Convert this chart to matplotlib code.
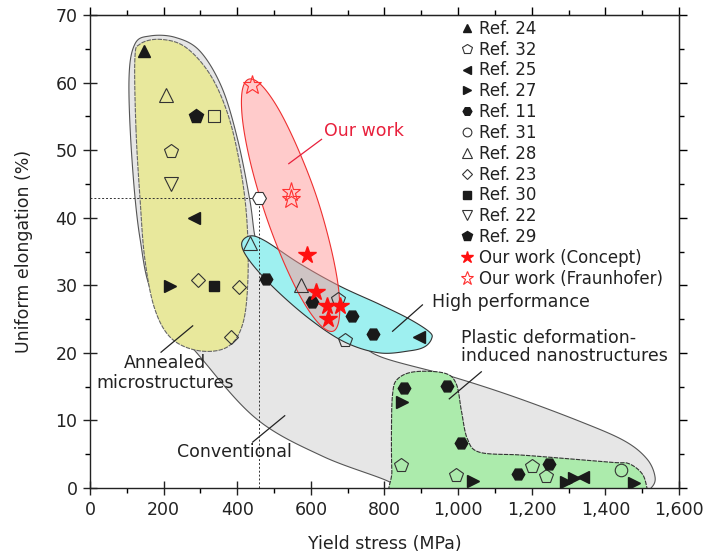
import numpy as np
import matplotlib
matplotlib.use("Agg")
import matplotlib.pyplot as plt
from matplotlib.ticker import MultipleLocator, FuncFormatter
from matplotlib.patches import Polygon

# ---- data (yield stress MPa, uniform elongation %) ----
ref24_x, ref24_y = [147], [64.7]
ref32_x = [221, 694, 675, 845, 994, 1200, 1238]
ref32_y = [49.9, 21.9, 28.0, 3.4, 1.9, 3.3, 1.8]
ref25_x, ref25_y = [283, 893, 1340], [40.0, 22.4, 1.6]
ref27_x = [217, 848, 1040, 1294, 1315, 1478]
ref27_y = [29.9, 12.8, 1.1, 0.9, 1.5, 0.8]
ref11_x = [479, 604, 711, 768, 852, 969, 1008, 1164, 1246]
ref11_y = [30.9, 27.6, 25.4, 22.8, 14.8, 15.1, 6.6, 2.1, 3.6]
ref31_x, ref31_y = [1442], [2.7]
ref28_x, ref28_y = [206, 435, 572], [58.1, 36.3, 30.1]
ref23_x, ref23_y = [294, 404, 384], [30.8, 29.8, 22.4]
ref30_x, ref30_y = [337], [29.9]
ref22_x, ref22_y = [221], [45.0]
ref29_x, ref29_y = [287], [55.0]
concept_x = [590, 615, 645, 678, 647]
concept_y = [34.5, 29.0, 26.9, 27.0, 25.0]
fraun_x, fraun_y = [440, 545, 545], [59.6, 43.8, 42.8]
open_sq_x, open_sq_y = [336], [55.0]
open_hex_x, open_hex_y = [459], [42.9]

# region outlines (data units)
conv_x = [114, 106, 122, 163, 231, 298, 358, 401, 434, 450, 475, 624, 732, 786, 976,
          1147, 1329, 1451, 1513, 1535, 1524, 1490, 1300, 1000, 845, 814, 632, 453, 298, 176, 136]
conv_y = [48.7, 60.5, 65.7, 66.9, 66.7, 64.7, 59.3, 51.6, 42.7, 36.8, 34.6, 28.0, 22.1,
          19.5, 16.6, 13.6, 9.9, 7.0, 4.3, 1.6, 0.0, -1.0, -1.5, -1.5, -1.0, 0.9, 4.7, 10.2,
          19.5, 28.0, 36.9]
ann_x = [125, 122, 136, 190, 258, 325, 374, 407, 426, 429, 415, 374, 298, 222, 176, 149, 136]
ann_y = [53.1, 63.5, 65.7, 66.4, 65.3, 61.3, 55.4, 47.9, 39.8, 30.9, 24.3, 20.9, 20.3,
         22.1, 26.5, 33.9, 42.8]
high_x = [412, 434, 475, 570, 678, 786, 868, 922, 928, 909, 868, 786, 692, 597, 502, 434]
high_y = [36.1, 37.3, 36.6, 33.2, 29.9, 27.2, 25.0, 23.1, 22.1, 20.9, 20.3, 20.0, 21.6,
          25.0, 29.5, 33.6]
plast_x = [819, 822, 835, 881, 963, 995, 1009, 1025, 1058, 1166, 1239, 1418, 1464, 1500,
           1513, 1516, 1300, 1000, 826, 820]
plast_y = [8.7, 13.9, 16.1, 17.2, 17.0, 15.4, 11.4, 7.3, 5.3, 4.9, 4.6, 3.8, 3.6, 2.1,
           0.0, -1.5, -1.5, -1.5, -1.5, 2.5]
ours_x = [660, 677, 675, 653, 615, 565, 513, 466, 431, 413, 415, 437, 476, 525, 577, 624]
ours_y = [23.2, 25.1, 29.6, 35.9, 43.2, 50.2, 56.0, 59.6, 60.5, 58.6, 54.2, 47.9, 40.6,
          33.6, 27.8, 24.2]


def smooth(xs, ys, n=24):
    p = np.column_stack([xs, ys]).astype(float)
    k = len(p)
    t = np.linspace(0, 1, n, endpoint=False)[:, None]
    out = []
    for i in range(k):
        p0, p1, p2, p3 = p[i - 1], p[i], p[(i + 1) % k], p[(i + 2) % k]
        out.append(0.5 * (2 * p1 + (-p0 + p2) * t + (2 * p0 - 5 * p1 + 4 * p2 - p3) * t ** 2
                          + (-p0 + 3 * p1 - 3 * p2 + p3) * t ** 3))
    return np.vstack(out)


plt.rcParams['font.family'] = ['DejaVu Sans']
fig = plt.figure(figsize=(7.04, 5.58), dpi=100)
ax = fig.add_axes([0.1278, 0.1254, 0.8367, 0.8477])

ax.add_patch(Polygon(smooth(conv_x, conv_y), closed=True, fc='#e6e6e6', ec='#555555', lw=0.8, zorder=1))
ax.add_patch(Polygon(smooth(ann_x, ann_y), closed=True, fc='#e8e89c', ec='#666666', lw=0.8, ls=(0, (4, 1)), zorder=2))
ax.add_patch(Polygon(smooth(high_x, high_y), closed=True, fc='#9ef0f0', ec='#333333', lw=0.8, zorder=2))
ax.add_patch(Polygon(smooth(plast_x, plast_y), closed=True, fc='#acebac', ec='#333333', lw=0.8, ls=(0, (4, 1)), zorder=2))
ax.add_patch(Polygon(smooth(ours_x, ours_y), closed=True, fc=(1.0, 0.6, 0.6, 0.5), ec='#ee3030', lw=0.8, zorder=3))

# guide lines to the open hexagon
ax.plot([0, open_hex_x[0]], [open_hex_y[0], open_hex_y[0]], ls=(0, (2, 2)), color='#333333', lw=0.7, zorder=4)
ax.plot([open_hex_x[0], open_hex_x[0]], [open_hex_y[0], 0], ls=(0, (2, 2)), color='#333333', lw=0.7, zorder=4)

k = '#1a1a1a'
mk = dict(ls='none', zorder=6)
ax.plot(ref24_x, ref24_y, '^', color=k, ms=9, label='Ref. 24', **mk)
ax.plot(ref32_x, ref32_y, 'p', mfc='none', mec='#333333', mew=0.8, ms=10, label='Ref. 32', **mk)
ax.plot(ref25_x, ref25_y, '<', color=k, ms=9, label='Ref. 25', **mk)
ax.plot(ref27_x, ref27_y, '>', color=k, ms=9, label='Ref. 27', **mk)
ax.plot(ref11_x, ref11_y, 'H', color=k, ms=9, label='Ref. 11', **mk)
ax.plot(ref31_x, ref31_y, 'o', mfc='none', mec='#333333', mew=0.8, ms=9, label='Ref. 31', **mk)
ax.plot(ref28_x, ref28_y, '^', mfc='none', mec='#333333', mew=0.8, ms=10, label='Ref. 28', **mk)
ax.plot(ref23_x, ref23_y, 'D', mfc='none', mec='#333333', mew=0.8, ms=7, label='Ref. 23', **mk)
ax.plot(ref30_x, ref30_y, 's', color=k, ms=7.5, label='Ref. 30', **mk)
ax.plot(ref22_x, ref22_y, 'v', mfc='none', mec='#333333', mew=0.8, ms=10, label='Ref. 22', **mk)
ax.plot(ref29_x, ref29_y, 'p', color=k, ms=10, label='Ref. 29', **mk)
ax.plot(concept_x, concept_y, '*', color='#ff1010', ms=13, label='Our work (Concept)', **mk)
ax.plot(fraun_x, fraun_y, '*', mfc='none', mec='#ff3030', mew=0.8, ms=14, label='Our work (Fraunhofer)', **mk)
ax.plot(open_sq_x, open_sq_y, 's', mfc='none', mec='#333333', mew=0.8, ms=8, **mk)
ax.plot(open_hex_x, open_hex_y, 'H', mfc='white', mec='#333333', mew=0.8, ms=10, **mk)

leg = ax.legend(loc='upper left', bbox_to_anchor=(0.63, 0.99), frameon=False, fontsize=12,
                markerscale=0.7, handlelength=0.7, handletextpad=0.35, labelspacing=0.17,
                borderpad=0, borderaxespad=0)
for t in leg.get_texts():
    t.set_color('#222222')

# annotations
tc = '#222222'
ax.text(203, 17.0, 'Annealed\nmicrostructures', ha='center', va='center', fontsize=12.5,
        color=tc, linespacing=1.1, zorder=7)
ax.plot([193, 279], [20.1, 24.0], color=tc, lw=0.9, zorder=7)
ax.text(393, 5.3, 'Conventional', ha='center', va='center', fontsize=12.5, color=tc, zorder=7)
ax.plot([442, 529], [6.8, 10.7], color=tc, lw=0.9, zorder=7)
ax.text(930, 27.5, 'High performance', ha='left', va='center', fontsize=12.5, color=tc, zorder=7)
ax.plot([903, 822], [27.1, 23.2], color=tc, lw=0.9, zorder=7)
ax.text(1009, 20.8, 'Plastic deformation-\ninduced nanostructures', ha='left', va='center',
        fontsize=12.5, color=tc, linespacing=1.0, zorder=7)
ax.plot([1063, 976], [17.2, 13.2], color=tc, lw=0.9, zorder=7)
ax.text(637, 52.8, 'Our work', ha='left', va='center', fontsize=12.5, color='#e8203c', zorder=7)
ax.plot([629, 540], [51.6, 48.0], color='#e8203c', lw=0.9, zorder=7)

ax.set_xlim(0, 1600)
ax.set_ylim(0, 70)
ax.xaxis.set_major_locator(MultipleLocator(200))
ax.xaxis.set_minor_locator(MultipleLocator(100))
ax.yaxis.set_major_locator(MultipleLocator(10))
ax.yaxis.set_minor_locator(MultipleLocator(5))
ax.xaxis.set_major_formatter(FuncFormatter(lambda v, p: f"{v:,.0f}"))
ax.tick_params(which='major', direction='inout', length=10, width=1.0, labelsize=12.5,
               colors='#222222', pad=4)
ax.tick_params(which='minor', direction='out', length=3.5, width=1.0)
for s in ax.spines.values():
    s.set_linewidth(1.0)
    s.set_color('#222222')

top = ax.secondary_xaxis('top')
top.xaxis.set_major_locator(MultipleLocator(200))
top.xaxis.set_minor_locator(MultipleLocator(100))
top.tick_params(which='major', direction='out', length=6, width=1.0, labeltop=False)
top.tick_params(which='minor', direction='out', length=3.5, width=1.0)
right = ax.secondary_yaxis('right')
right.yaxis.set_major_locator(MultipleLocator(10))
right.yaxis.set_minor_locator(MultipleLocator(5))
right.tick_params(which='major', direction='out', length=6, width=1.0, labelright=False)
right.tick_params(which='minor', direction='out', length=3.5, width=1.0)

ax.set_xlabel('Yield stress (MPa)', fontsize=12.5, color='#222222', labelpad=12)
ax.set_ylabel('Uniform elongation (%)', fontsize=12.5, color='#222222', labelpad=16)

fig.savefig('out.png', dpi=100)
